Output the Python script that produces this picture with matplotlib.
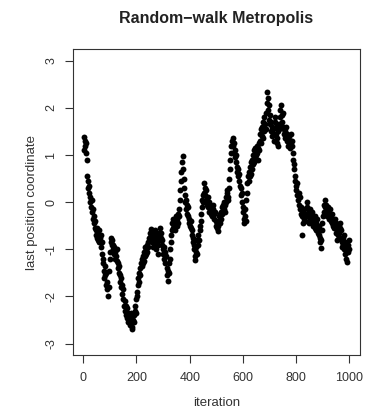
import matplotlib
matplotlib.use("Agg")
import matplotlib.pyplot as plt

plt.rcParams['font.family'] = ['Liberation Sans', 'DejaVu Sans']

title = "Random\u2212walk Metropolis"
xlabel = "iteration"
ylabel = "last position coordinate"
xticks = [0, 200, 400, 600, 800, 1000]
yticks = [-3, -2, -1, 0, 1, 2, 3]

iterations = list(range(1, 1000, 2))
values = [
    # 1..99
    1.10, 1.38, 1.30, 1.20, 1.05, 1.25, 0.90, 0.55, 0.45, 0.30,
    0.20, 0.35, 0.10, 0.00, -0.10, 0.05, -0.20, -0.15, -0.35, -0.30,
    -0.45, -0.40, -0.55, -0.70, -0.60, -0.75, -0.55, -0.80, -0.70, -0.60,
    -0.85, -0.75, -0.95, -0.70, -0.85, -1.10, -1.30, -1.20, -1.45, -1.60,
    -1.35, -1.55, -1.75, -1.50, -1.85, -1.70, -2.00, -1.80, -1.45, -1.20,
    # 101..199
    -1.05, -0.85, -0.76, -0.90, -0.80, -1.00, -0.90, -1.10, -0.95, -1.20,
    -1.05, -1.15, -1.00, -1.25, -1.40, -1.30, -1.50, -1.35, -1.55, -1.70,
    -1.60, -1.80, -1.75, -1.95, -1.85, -2.05, -2.20, -2.10, -2.30, -2.20,
    -2.40, -2.25, -2.45, -2.35, -2.55, -2.40, -2.50, -2.60, -2.45, -2.35,
    -2.55, -2.65, -2.68, -2.50, -2.40, -2.55, -2.30, -2.20, -2.35, -2.05,
    # 201..299
    -1.90, -2.00, -1.75, -1.60, -1.70, -1.50, -1.40, -1.55, -1.30, -1.35,
    -1.20, -1.30, -1.15, -1.25, -1.05, -1.15, -0.95, -1.10, -1.00, -0.90,
    -1.05, -0.85, -0.95, -0.75, -0.65, -0.80, -0.57, -0.70, -0.85, -0.75,
    -0.95, -0.80, -0.65, -0.75, -0.60, -0.70, -0.90, -1.00, -0.85, -1.10,
    -0.90, -0.75, -0.65, -0.80, -0.55, -0.65, -0.75, -0.90, -0.80, -1.00,
    # 301..399
    -1.10, -0.95, -1.20, -1.05, -1.30, -1.15, -1.40, -1.55, -1.68, -1.45,
    -1.30, -1.50, -1.20, -1.00, -0.85, -0.70, -0.60, -0.45, -0.55, -0.35,
    -0.50, -0.40, -0.60, -0.45, -0.30, -0.50, -0.35, -0.25, -0.45, -0.30,
    -0.15, 0.05, 0.25, 0.45, 0.65, 0.85, 0.97, 0.70, 0.50, 0.30,
    0.15, 0.00, 0.05, -0.15, -0.05, -0.25, -0.10, -0.30, -0.45, -0.35,
    # 401..499
    -0.50, -0.40, -0.55, -0.70, -0.60, -0.85, -0.75, -1.00, -0.90, -1.15,
    -1.22, -1.05, -0.95, -1.10, -0.80, -0.90, -0.70, -0.80, -0.60, -0.50,
    -0.40, -0.25, -0.10, 0.05, 0.15, 0.00, 0.20, 0.40, 0.30, 0.15,
    0.25, 0.05, -0.05, 0.10, -0.10, -0.20, 0.00, -0.15, -0.05, -0.25,
    -0.10, -0.20, -0.30, -0.15, -0.05, -0.25, -0.35, -0.20, -0.40, -0.50,
    # 501..599
    -0.45, -0.55, -0.61, -0.50, -0.40, -0.30, -0.45, -0.25, -0.35, -0.20,
    -0.10, -0.25, -0.05, -0.15, 0.00, -0.20, -0.05, 0.10, 0.00, 0.20,
    0.25, 0.10, 0.05, 0.30, 0.50, 0.70, 0.90, 1.05, 1.20, 1.30,
    1.35, 1.20, 1.25, 1.05, 1.10, 0.95, 0.85, 1.00, 0.75, 0.65,
    0.70, 0.55, 0.45, 0.60, 0.35, 0.30, 0.15, 0.20, 0.00, -0.10,
    # 601..699
    -0.20, -0.35, -0.45, -0.30, -0.15, -0.40, 0.05, 0.20, 0.40, 0.55,
    0.45, 0.65, 0.55, 0.75, 0.60, 0.85, 0.70, 0.90, 0.80, 1.00,
    0.85, 1.10, 0.95, 1.15, 1.00, 1.20, 1.05, 0.90, 1.15, 1.25,
    1.10, 1.30, 1.45, 1.25, 1.55, 1.40, 1.60, 1.35, 1.70, 1.50,
    1.80, 1.65, 1.55, 1.90, 2.10, 2.34, 2.20, 1.95, 2.05, 1.75,
    # 701..799
    1.65, 1.85, 1.70, 1.50, 1.60, 1.40, 1.55, 1.30, 1.45, 1.70,
    1.80, 1.60, 1.45, 1.25, 1.35, 1.20, 1.50, 1.65, 1.55, 1.80,
    1.95, 2.05, 1.85, 1.70, 1.90, 1.60, 1.45, 1.55, 1.35, 1.50,
    1.60, 1.40, 1.30, 1.45, 1.20, 1.35, 1.25, 1.40, 1.15, 1.30,
    1.45, 1.20, 1.30, 1.05, 0.90, 0.80, 0.70, 0.55, 0.45, 0.35,
    # 801..899
    0.25, 0.40, 0.15, 0.05, 0.20, -0.05, 0.10, -0.15, -0.25, -0.10,
    -0.70, -0.30, -0.20, -0.45, -0.35, -0.15, -0.25, -0.40, -0.30, -0.10,
    0.00, -0.15, -0.30, -0.20, -0.45, -0.35, -0.15, -0.25, -0.40, -0.30,
    -0.20, -0.35, -0.50, -0.40, -0.55, -0.30, -0.45, -0.60, -0.50, -0.35,
    -0.55, -0.65, -0.50, -0.70, -0.85, -0.75, -0.97, -0.80, -0.60, -0.45,
    # 901..999
    -0.30, -0.20, -0.05, 0.04, -0.10, -0.20, -0.05, -0.15, -0.30, -0.20,
    -0.10, -0.25, -0.35, -0.15, -0.30, -0.40, -0.25, -0.45, -0.35, -0.50,
    -0.40, -0.55, -0.35, -0.50, -0.65, -0.45, -0.60, -0.80, -0.70, -0.50,
    -0.65, -0.45, -0.55, -0.75, -0.60, -0.85, -0.95, -0.75, -0.90, -0.70,
    -1.00, -0.85, -1.10, -1.00, -1.20, -1.27, -1.05, -0.90, -1.00, -0.80,
]

fig = plt.figure(figsize=(3.83, 4.08), dpi=100)
ax = fig.add_axes([0.1896, 0.130, 0.7504, 0.749])
ax.scatter(iterations, values, s=18, color='black', linewidths=0)
ax.set_xlim(-40, 1040)
ax.set_ylim(-3.24, 3.24)
ax.set_xticks(xticks)
ax.set_yticks(yticks)
ax.set_yticklabels([str(t) for t in yticks], rotation=90, va='center')
ax.tick_params(direction='out', length=6, width=0.8, colors='#333333',
               labelsize=9, labelcolor='#333333')
ax.tick_params(axis='x', pad=6.5)
ax.tick_params(axis='y', pad=5)
for sp in ax.spines.values():
    sp.set_color('#333333')
    sp.set_linewidth(0.8)
ax.set_xlabel(xlabel, fontsize=9.5, color='#333333', labelpad=9)
ax.set_ylabel(ylabel, fontsize=9.5, color='#333333', labelpad=5)
ax.set_title(title, fontsize=11.5, fontweight='bold', color='#222222', pad=19)
fig.savefig('out.png', dpi=100)
